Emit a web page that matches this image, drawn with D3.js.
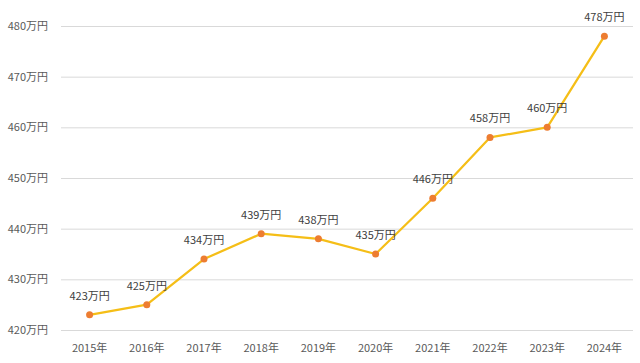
<!DOCTYPE html>
<html>
<head>
<meta charset="utf-8">
<script src="https://cdn.jsdelivr.net/npm/d3@7"></script>
<style>
  body { margin: 0; background: #fff; }
  text { font-family: "Noto Sans CJK JP", "Noto Sans", sans-serif; }
</style>
</head>
<body>
<div id="chart"></div>
<script>
// ----------------------------
// Data
// ----------------------------
var years = ["2015年", "2016年", "2017年", "2018年", "2019年", "2020年", "2021年", "2022年", "2023年", "2024年"];
var income = [423, 425, 434, 439, 438, 435, 446, 458, 460, 478];
var yTicks = [420, 430, 440, 450, 460, 470, 480];

var Vis = {};
Vis.width = 640;
Vis.height = 363;

Vis.svg = d3.select("#chart").append("svg")
  .attr("width", Vis.width)
  .attr("height", Vis.height);

// ----------------------------
// Scales
// ----------------------------
Vis.xScale = d3.scaleBand()
  .domain(years)
  .range([61, 633]);

Vis.yScale = d3.scaleLinear()
  .domain([420, 480])
  .range([330, 26]);

// gridlines
Vis.svg.append("g")
  .selectAll("line")
  .data(yTicks)
  .enter()
  .append("line")
  .attr("x1", 61)
  .attr("x2", 633)
  .attr("y1", d => Vis.yScale(d) + 0.5)
  .attr("y2", d => Vis.yScale(d) + 0.5)
  .attr("stroke", "#d9d9d9")
  .attr("stroke-width", 1);

// y labels
Vis.svg.append("g")
  .selectAll("text")
  .data(yTicks)
  .enter()
  .append("text")
  .attr("x", 48)
  .attr("y", d => Vis.yScale(d))
  .attr("dy", "0.35em")
  .attr("text-anchor", "end")
  .attr("font-size", 11)
  .attr("fill", "#595959")
  .text(d => d + "万円");

// x labels
Vis.svg.append("g")
  .selectAll("text")
  .data(years)
  .enter()
  .append("text")
  .attr("x", d => Vis.xScale(d) + Vis.xScale.bandwidth() / 2)
  .attr("y", 348)
  .attr("dy", "0.35em")
  .attr("text-anchor", "middle")
  .attr("font-size", 11)
  .attr("fill", "#595959")
  .text(d => d);

// line
var pts = years.map((y, i) => ({ year: y, value: income[i] }));
var cx = d => Vis.xScale(d.year) + Vis.xScale.bandwidth() / 2;

Vis.svg.append("path")
  .datum(pts)
  .attr("fill", "none")
  .attr("stroke", "#F5BE17")
  .attr("stroke-width", 2.25)
  .attr("stroke-linejoin", "round")
  .attr("d", d3.line().x(cx).y(d => Vis.yScale(d.value)));

// markers
Vis.svg.append("g")
  .selectAll("circle")
  .data(pts)
  .enter()
  .append("circle")
  .attr("cx", cx)
  .attr("cy", d => Vis.yScale(d.value))
  .attr("r", 3.5)
  .attr("fill", "#ED7D31");

// data labels
Vis.svg.append("g")
  .selectAll("text")
  .data(pts)
  .enter()
  .append("text")
  .attr("x", cx)
  .attr("y", d => Vis.yScale(d.value) - 19)
  .attr("dy", "0.35em")
  .attr("text-anchor", "middle")
  .attr("font-size", 11)
  .attr("fill", "#404040")
  .text(d => d.value + "万円");
</script>
</body>
</html>
